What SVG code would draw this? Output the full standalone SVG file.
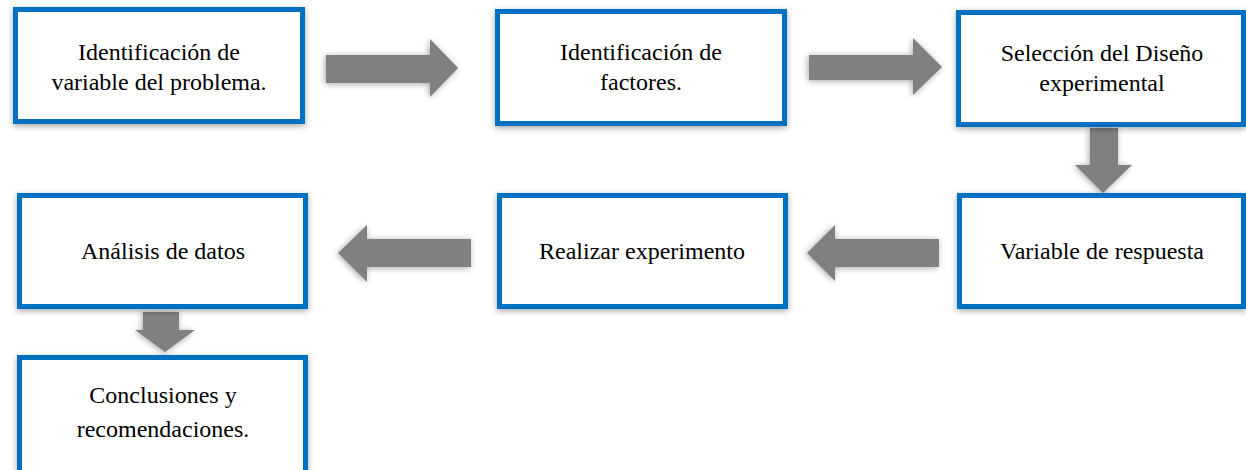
<svg xmlns="http://www.w3.org/2000/svg" width="1246" height="470" viewBox="0 0 1246 470">
<defs>
<filter id="sh" x="-10%" y="-20%" width="120%" height="140%">
<feDropShadow dx="0" dy="2" stdDeviation="3" flood-color="#000" flood-opacity="0.35"/>
</filter>
<filter id="ash" x="-20%" y="-30%" width="140%" height="160%">
<feDropShadow dx="-1" dy="1" stdDeviation="3" flood-color="#000" flood-opacity="0.35"/>
</filter>
</defs>
<style>
.box{fill:#fff;stroke:#0070C0;stroke-width:5;filter:url(#sh)}
.t{font-family:"Liberation Serif","Times New Roman",serif;font-size:24px;fill:#000;text-anchor:middle}
.arr{fill:#808080;filter:url(#ash)}
</style>
<g id="connectors">
<polygon class="arr" points="326,55 430,55 430,39 458,68 430,97 430,83 326,83"/>
<polygon class="arr" points="809,55 913,55 913,38 942,67 913,95 913,80 809,80"/>
<polygon class="arr" points="1090,128 1118,128 1118,165 1132,165 1103,193 1075,165 1090,165"/>
<polygon class="arr" points="939,239 835,239 835,225 807,253 835,281 835,267 939,267"/>
<polygon class="arr" points="471,239 367,239 367,225 338,253 367,282 367,267 471,267"/>
<polygon class="arr" points="143,312 179,312 179,330 195,330 165,352 135,330 143,330"/>
</g>
<g id="n1">
<rect class="box" x="15.5" y="9.5" width="287" height="112"/>
<text class="t" x="159" y="60">Identificación de</text>
<text class="t" x="159" y="90">variable del problema.</text>
</g>
<g id="n2">
<rect class="box" x="497.5" y="11.5" width="287" height="112"/>
<text class="t" x="641" y="60">Identificación de</text>
<text class="t" x="641" y="90">factores.</text>
</g>
<g id="n3">
<rect class="box" x="958.5" y="12.5" width="285" height="112"/>
<text class="t" x="1102" y="61">Selección del Diseño</text>
<text class="t" x="1102" y="91">experimental</text>
</g>
<g id="n4">
<rect class="box" x="959.5" y="195.5" width="284" height="111"/>
<text class="t" x="1102" y="259">Variable de respuesta</text>
</g>
<g id="n5">
<rect class="box" x="499.5" y="195.5" width="286" height="111"/>
<text class="t" x="642" y="259">Realizar experimento</text>
</g>
<g id="n6">
<rect class="box" x="19.5" y="195.5" width="286" height="111"/>
<text class="t" x="163" y="259">Análisis de datos</text>
</g>
<g id="n7">
<rect class="box" x="19.5" y="357.5" width="286" height="120"/>
<text class="t" x="163" y="403">Conclusiones y</text>
<text class="t" x="163" y="437">recomendaciones.</text>
</g>
</svg>
